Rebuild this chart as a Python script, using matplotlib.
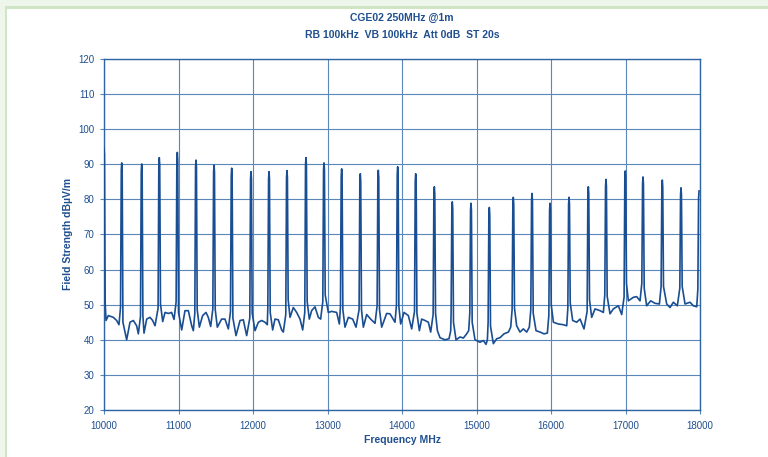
import matplotlib
matplotlib.use("Agg")
import matplotlib.pyplot as plt
from matplotlib.patches import Rectangle
import bisect

plt.rcParams['font.family'] = ['Liberation Sans', 'DejaVu Sans']

# ---- data ----
title_lines = ["CGE02 250MHz @1m", "RB 100kHz  VB 100kHz  Att 0dB  ST 20s"]
x_label = "Frequency MHz"
y_label = "Field Strength dBµV/m"
x_ticks = [10000, 11000, 12000, 13000, 14000, 15000, 16000, 17000, 18000]
y_ticks = [20, 30, 40, 50, 60, 70, 80, 90, 100, 110, 120]

peak_freq = [10000, 10238, 10506, 10742, 10984, 11235, 11477, 11714, 11973, 12215,
             12456, 12711, 12953, 13190, 13440, 13682, 13942, 14184, 14434, 14675,
             14926, 15172, 15494, 15745, 15987, 16242, 16501, 16738, 16997, 17235,
             17494, 17745, 17987]
peak_level = [94.8, 90.4, 90.1, 91.9, 93.4, 91.2, 89.8, 88.9, 87.9, 87.9,
              88.2, 91.9, 90.4, 88.7, 87.3, 88.3, 89.3, 87.3, 83.6, 79.3,
              78.9, 77.7, 80.6, 81.7, 78.9, 80.6, 83.6, 85.7, 88.1, 86.4,
              85.5, 83.3, 82.4]

floor_freq = [10027, 10058, 10125, 10170, 10201,
              10304, 10349, 10394, 10438, 10461,
              10537, 10573, 10617, 10653, 10685,
              10788, 10819, 10864, 10908, 10940,
              11043, 11087, 11132, 11177, 11199,
              11280, 11324, 11369, 11400, 11432,
              11521, 11579, 11624, 11669,
              11772, 11826, 11870, 11915,
              12027, 12072, 12116, 12161, 12192,
              12264, 12295, 12340, 12385, 12407,
              12497, 12541, 12586, 12631, 12667,
              12756, 12787, 12832, 12877, 12908,
              13011, 13056, 13123, 13159,
              13235, 13280, 13338, 13383,
              13481, 13526, 13579, 13638,
              13727, 13794, 13839, 13906,
              13982, 14027, 14085, 14130,
              14233, 14264, 14309, 14354, 14385,
              14475, 14510, 14577, 14631, 14654,
              14725, 14779, 14824, 14868, 14895,
              14980, 15047, 15092, 15128, 15146,
              15226, 15271, 15316, 15369, 15428, 15459,
              15539, 15584, 15629, 15674, 15709,
              15799, 15853, 15906, 15951,
              16032, 16099, 16166, 16211,
              16291, 16345, 16390, 16443,
              16546, 16591, 16658, 16703,
              16792, 16837, 16904, 16949,
              17038, 17105, 17150, 17195,
              17284, 17338, 17396, 17455,
              17553, 17598, 17642, 17696,
              17799, 17866, 17911, 17956]
floor_level = [45.5, 46.9, 46.4, 45.5, 44.3,
               40.0, 45.0, 45.5, 44.0, 41.7,
               41.9, 45.9, 46.4, 45.5, 44.0,
               45.2, 47.8, 47.5, 47.8, 45.8,
               42.8, 48.3, 48.3, 44.0, 42.6,
               43.6, 46.9, 47.8, 46.4, 43.8,
               43.6, 45.9, 45.9, 43.1,
               41.2, 45.5, 45.7, 41.2,
               42.6, 45.0, 45.5, 45.0, 44.3,
               42.8, 45.9, 45.7, 42.8, 42.2,
               46.4, 49.2, 47.8, 45.9, 42.8,
               45.9, 48.3, 49.4, 46.4, 45.9,
               47.8, 48.1, 47.8, 44.5,
               43.6, 46.4, 45.9, 43.6,
               43.6, 47.2, 45.9, 44.7,
               43.6, 47.5, 47.4, 45.0,
               44.5, 47.8, 46.9, 43.1,
               42.6, 45.9, 45.5, 45.0, 42.2,
               42.6, 40.6, 40.0, 40.3, 42.6,
               40.0, 40.8, 40.5, 41.7, 42.6,
               40.0, 39.3, 39.8, 38.7, 40.0,
               38.9, 40.3, 40.6, 41.7, 42.2, 43.6,
               44.0, 42.2, 43.1, 42.2, 43.6,
               42.6, 42.2, 41.7, 41.9,
               45.0, 44.5, 44.3, 44.0,
               45.5, 45.0, 45.9, 43.1,
               46.4, 48.8, 48.3, 47.8,
               47.4, 48.8, 49.7, 47.2,
               51.1, 52.1, 52.3, 51.1,
               49.7, 51.1, 50.4, 50.2,
               50.2, 49.2, 50.7, 49.7,
               50.2, 50.7, 49.7, 49.4]

# ---- build the sweep trace: narrow spikes rising from the floor ----
base_hw = 16    # MHz, half width of a spike near its foot (styling)
top_hw = 6      # MHz, half width near its tip (styling)
foot_rise = 5   # dB the spike foot sits above the neighbouring floor (styling)
pts = list(zip(floor_freq, floor_level))
for f, lv in zip(peak_freq, peak_level):
    i = bisect.bisect_left(floor_freq, f)
    left = floor_level[i - 1] if i > 0 else floor_level[0]
    right = floor_level[i] if i < len(floor_level) else floor_level[-1]
    if f - base_hw >= x_ticks[0]:
        pts.append((f - base_hw, left + foot_rise))
        pts.append((f - top_hw, lv - 2.0))
    pts.append((f, lv))
    if f + base_hw <= x_ticks[-1]:
        pts.append((f + top_hw, lv - 2.0))
        pts.append((f + base_hw, right + foot_rise))
pts.sort()
trace_f = [p[0] for p in pts]
trace_l = [p[1] for p in pts]

TEXT = '#1f4f8f'
GRID = '#5a86b8'
LINE = '#1a4e92'

fig = plt.figure(figsize=(7.68, 4.57), dpi=100)
fig.patch.set_facecolor('white')
# light green frame decoration (top and left)
fig.add_artist(Rectangle((0, 1 - 7/457), 1, 7/457, transform=fig.transFigure,
                         facecolor='#eef5ea', edgecolor='none', zorder=0))
fig.add_artist(Rectangle((0, 1 - 8.5/457), 1, 2/457, transform=fig.transFigure,
                         facecolor='#cfe5c4', edgecolor='none', zorder=0))
fig.add_artist(Rectangle((0, 0), 5/768, 1, transform=fig.transFigure,
                         facecolor='#eef5ea', edgecolor='none', zorder=0))
fig.add_artist(Rectangle((5/768, 0), 2/768, 1 - 6.5/457, transform=fig.transFigure,
                         facecolor='#cfe5c4', edgecolor='none', zorder=0))

ax = fig.add_axes([104/768, 47/457, 596/768, 351/457])
ax.plot(trace_f, trace_l, color=LINE, linewidth=1.2, zorder=3)

ax.set_xlim(x_ticks[0], x_ticks[-1])
ax.set_ylim(y_ticks[0], y_ticks[-1])
ax.set_xticks(x_ticks)
ax.set_yticks(y_ticks)
ax.grid(True, color=GRID, linewidth=0.8, zorder=1)
for s in ax.spines.values():
    s.set_color('#2f64a3')
    s.set_linewidth(1.0)
ax.tick_params(axis='both', colors=GRID, labelcolor=TEXT, labelsize=7, length=3, width=0.8)
ax.tick_params(axis='x', pad=5)
ax.tick_params(axis='y', pad=4)

ax.set_xlabel(x_label, fontsize=7.5, fontweight='bold', color=TEXT, labelpad=3)
ax.set_ylabel(y_label, fontsize=7.5, fontweight='bold', color=TEXT, labelpad=4)

fig.text(402/768, 1 - 18/457, title_lines[0], ha='center', va='center',
         fontsize=7.5, fontweight='bold', color=TEXT)
fig.text(402/768, 1 - 35/457, title_lines[1], ha='center', va='center',
         fontsize=7.5, fontweight='bold', color=TEXT)

fig.savefig('out.png', dpi=100)
